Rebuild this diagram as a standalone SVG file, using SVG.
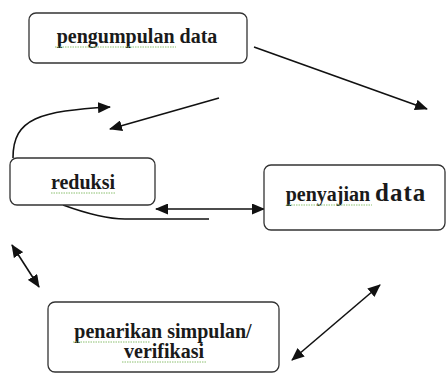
<svg xmlns="http://www.w3.org/2000/svg" width="448" height="374" viewBox="0 0 448 374">
<style>
.box{fill:#fff;stroke:#333;stroke-width:1.3}
.t{font-family:'Liberation Serif','Times New Roman',serif;font-weight:bold;font-size:20px;fill:#1a1a1a;text-anchor:middle}
.c{fill:none;stroke:#111;stroke-width:1.6}
.sq{fill:none;stroke:#8cc070;stroke-width:1;stroke-dasharray:1.5 1}
</style>
<defs>
<marker id="ah" viewBox="0 0 13 11" refX="12" refY="5.5" markerWidth="13" markerHeight="11" markerUnits="userSpaceOnUse" orient="auto-start-reverse">
<path d="M0,0 L13,5.5 L0,11 Z" fill="#111"/>
</marker>
</defs>
<rect width="448" height="374" fill="#fff"/>
<g id="connectors">
<line class="c" x1="254" y1="47" x2="427" y2="109" marker-end="url(#ah)"/>
<line class="c" x1="219" y1="98" x2="110" y2="129" marker-end="url(#ah)"/>
<path class="c" d="M13,158 C13,118 40,111 110,107" marker-end="url(#ah)"/>
<line class="c" x1="156" y1="209" x2="264" y2="209" marker-start="url(#ah)" marker-end="url(#ah)"/>
<path class="c" d="M63,205 C85,213 105,219 125,219 L209,219"/>
<line class="c" x1="12" y1="245" x2="39" y2="287" marker-start="url(#ah)" marker-end="url(#ah)"/>
<line class="c" x1="380" y1="285" x2="292" y2="360" marker-start="url(#ah)" marker-end="url(#ah)"/>
</g>
<g id="pengumpulan">
<rect class="box" x="29" y="13" width="218" height="50" rx="7"/>
<text class="t" x="137" y="43">pengumpulan data</text>
<line class="sq" x1="55" y1="47" x2="176" y2="47"/>
</g>
<g id="reduksi">
<rect class="box" x="10" y="158" width="145" height="47" rx="7"/>
<text class="t" x="83" y="189">reduksi</text>
<line class="sq" x1="51" y1="193" x2="115" y2="193"/>
</g>
<g id="penyajian">
<rect class="box" x="264" y="165" width="181" height="65" rx="7"/>
<text class="t" x="356" y="201"><tspan>penyajian </tspan><tspan font-size="25px" letter-spacing="1">data</tspan></text>
<line class="sq" x1="286" y1="205" x2="372" y2="205"/>
</g>
<g id="penarikan">
<rect class="box" x="48" y="302" width="231" height="70" rx="7"/>
<text class="t" x="163" y="338">penarikan simpulan/</text>
<text class="t" x="164" y="358">verifikasi</text>
<line class="sq" x1="73" y1="342" x2="150" y2="342"/>
<line class="sq" x1="122" y1="362" x2="206" y2="362"/>
</g>
</svg>
